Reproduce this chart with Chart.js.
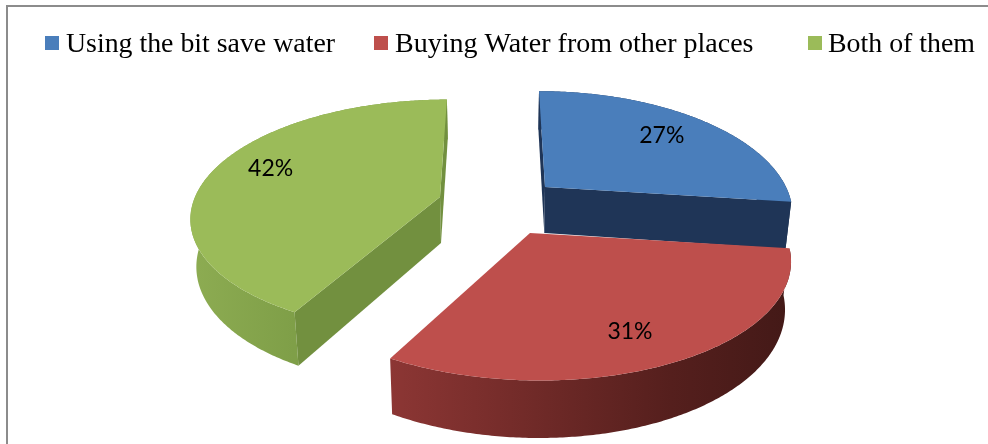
<!DOCTYPE html>
<html>
<head>
<meta charset="utf-8">
<style>
  html, body { margin: 0; padding: 0; background: #fff; overflow: hidden; }
  canvas { display: block; }
</style>
</head>
<body>
<canvas id="chart" width="988" height="444"></canvas>
<script src="https://cdn.jsdelivr.net/npm/chart.js@4/dist/chart.umd.min.js"></script>
<script>
const categories = ['Using the bit save water', 'Buying Water from other places', 'Both of them'];
const shares = [27, 31, 42];
const topColors = ['#4a7ebb', '#be4f4c', '#9bbb59'];

// perspective of the fake 3D pie
const depth = 46, bottomShrink = 0.98;

// one entry per slice: where its tip sits and how wide it is
const sliceStyles = [
    { cx: 545, cy: 187, rx: 241, ry: 115, vanishX: 509, tilt: 0.2, wall: [[0, '#20375a'], [1, '#1c3050']], sideWall: '#1f3557', sides: true, labelAt: 0.7, labelDx: 4, labelDy: -3 },
    { cx: 530, cy: 233, rx: 254, ry: 118, vanishX: 490, tilt: 0.2, wall: [[0, '#8c3634'], [0.3, '#752c2a'], [0.7, '#551f1d'], [1, '#431917']], sideWall: '#431917', sides: false, labelAt: 0.75, labelDx: -6, labelDy: 8 },
    { cx: 440, cy: 197, rx: 245, ry: 113, vanishX: 490, tilt: 0.16, wall: [[0, '#8dac52'], [0.4, '#7f9f48'], [1, '#7a9944']], sideWall: '#72903f', sides: true, labelAt: 0.75, labelDx: 2, labelDy: -8 }
];
const drawOrder = [2, 0, 1];

const legendBoxX = [45, 374, 808];
const legendTextX = [66, 395, 828];
const legendTextW = [269, 359, 147];

function project(s, theta, f, bottom) {
    const X = f * Math.sin(theta), Y = -f * Math.cos(theta);
    const w = 1 - s.tilt * Y;
    let x = s.vanishX + (s.cx - s.vanishX + s.rx * X) / w;
    let y = s.cy + s.ry * Y / w;
    if (bottom) {
        x = s.vanishX + (x - s.vanishX) * bottomShrink;
        y += depth / w;
    }
    return [x, y];
}

function tracePoly(ctx, pts) {
    ctx.beginPath();
    pts.forEach((p, i) => i ? ctx.lineTo(p[0], p[1]) : ctx.moveTo(p[0], p[1]));
    ctx.closePath();
}

function arcPoints(s, from, to, bottom) {
    const pts = [];
    const steps = Math.ceil(Math.abs(to - from) / 0.01);
    for (let i = 0; i <= steps; i++) {
        pts.push(project(s, from + (to - from) * i / steps, 1, bottom));
    }
    return pts;
}

const pie3d = {
    id: 'pie3d',
    beforeDraw(chart) {
        const ctx = chart.ctx;
        ctx.save();
        ctx.fillStyle = '#fff';
        ctx.fillRect(0, 0, 988, 444);
        ctx.strokeStyle = '#8c8c8c';
        ctx.lineWidth = 2;
        ctx.beginPath();
        ctx.moveTo(7, 444);
        ctx.lineTo(7, 6);
        ctx.lineTo(988, 6);
        ctx.stroke();
        ctx.restore();
    },
    beforeDatasetsDraw(chart) {
        const ctx = chart.ctx;
        const arcs = chart.getDatasetMeta(0).data;
        ctx.save();
        drawOrder.forEach(i => {
            const s = sliceStyles[i];
            // chart.js angles start at -PI/2, theta here starts at the top
            const a0 = arcs[i].startAngle + Math.PI / 2;
            const a1 = arcs[i].endAngle + Math.PI / 2;

            const topArc = arcPoints(s, a0, a1, false);
            const lowArc = arcPoints(s, a0, a1, true);
            const xs = topArc.map(p => p[0]);
            const grad = ctx.createLinearGradient(Math.min(...xs), 0, Math.max(...xs), 0);
            s.wall.forEach(c => grad.addColorStop(c[0], c[1]));
            ctx.fillStyle = grad;
            tracePoly(ctx, topArc.concat(lowArc.reverse()));
            ctx.fill();

            if (s.sides) {
                ctx.fillStyle = s.sideWall;
                [a0, a1].forEach(a => {
                    tracePoly(ctx, [project(s, a, 0, false), project(s, a, 1, false), project(s, a, 1, true), project(s, a, 0, true)]);
                    ctx.fill();
                });
            }

            ctx.fillStyle = topColors[i];
            tracePoly(ctx, [project(s, 0, 0, false)].concat(topArc));
            ctx.fill();
        });

        ctx.fillStyle = '#000';
        ctx.font = '23px Lato';
        ctx.textAlign = 'center';
        ctx.textBaseline = 'middle';
        arcs.forEach((arc, i) => {
            const s = sliceStyles[i];
            const mid = (arc.startAngle + arc.endAngle) / 2 + Math.PI / 2;
            const p = project(s, mid, s.labelAt, false);
            ctx.fillText(shares[i] + '%', p[0] + s.labelDx, p[1] + s.labelDy);
        });
        ctx.restore();
        return false;
    },
    afterDraw(chart) {
        const ctx = chart.ctx;
        ctx.save();
        ctx.font = '28px "Liberation Serif"';
        ctx.textAlign = 'left';
        ctx.textBaseline = 'alphabetic';
        categories.forEach((name, i) => {
            ctx.fillStyle = topColors[i];
            ctx.fillRect(legendBoxX[i], 36, 14, 14);
            ctx.fillStyle = '#000';
            ctx.fillText(name, legendTextX[i], 52, legendTextW[i]);
        });
        ctx.restore();
    }
};

new Chart(document.getElementById('chart'), {
    type: 'pie',
    data: {
        labels: categories,
        datasets: [{ data: shares, backgroundColor: topColors, borderWidth: 0 }]
    },
    options: {
        responsive: false,
        animation: false,
        plugins: { legend: { display: false }, tooltip: { enabled: false } }
    },
    plugins: [pie3d]
});
</script>
</body>
</html>
